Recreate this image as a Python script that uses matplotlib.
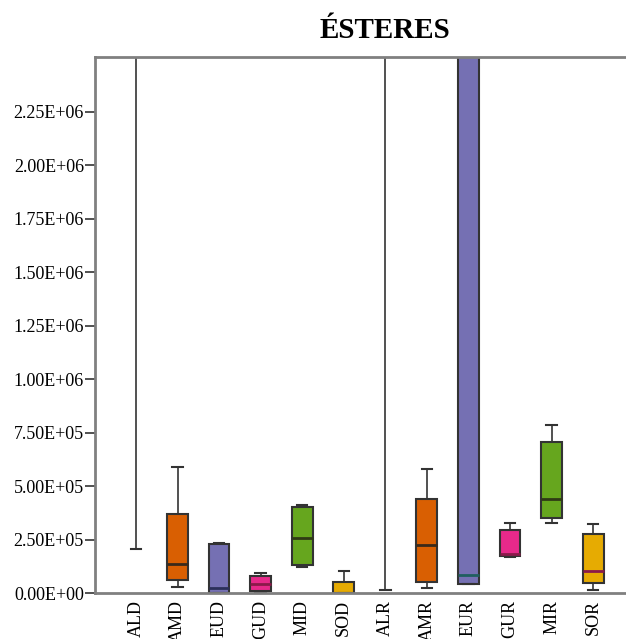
import matplotlib
matplotlib.use("Agg")
import matplotlib.pyplot as plt

# Sample groups and box statistics (whisker low, Q1, median, Q3, whisker high)
groups = ["ALD", "AMD", "EUD", "GUD", "MID", "SOD",
          "ALR", "AMR", "EUR", "GUR", "MIR", "SOR"]
whislo = [2.06e5, 2.9e4, 0.0, 5.0e3, 1.23e5, 0.0,
          1.4e4, 2.5e4, 4.1e4, 1.68e5, 3.26e5, 1.4e4]
q1 = [3.2e6, 5.9e4, 0.0, 9.0e3, 1.30e5, 0.0,
      3.4e6, 5.1e4, 4.1e4, 1.75e5, 3.51e5, 4.7e4]
med = [4.0e6, 1.37e5, 2.5e4, 4.1e4, 2.59e5, 0.0,
       4.3e6, 2.25e5, 8.4e4, 1.84e5, 4.40e5, 1.03e5]
q3 = [5.0e6, 3.70e5, 2.31e5, 8.0e4, 4.04e5, 5.3e4,
      5.5e6, 4.40e5, 3.2e6, 2.93e5, 7.05e5, 2.75e5]
whishi = [6.0e6, 5.91e5, 2.33e5, 9.2e4, 4.12e5, 1.03e5,
          6.5e6, 5.82e5, 4.0e6, 3.29e5, 7.86e5, 3.24e5]

fill_colors = ["#D95F02", "#D95F02", "#7570B3", "#E7298A", "#66A61E", "#E6AB02",
               "#D95F02", "#D95F02", "#7570B3", "#E7298A", "#66A61E", "#E6AB02"]
median_colors = ["#222222", "#3a2a1a", "#2b2f5a", "#8a1a4a", "#2f3a14", "#5a3a00",
                 "#222222", "#3a2a1a", "#1f5f5f", "#8a1a4a", "#2f3a14", "#8a1a4a"]

ytick_vals = [0, 2.5e5, 5.0e5, 7.5e5, 1.0e6, 1.25e6, 1.5e6, 1.75e6, 2.0e6, 2.25e6]

plt.rcParams["font.family"] = ["Liberation Serif", "DejaVu Serif"]

fig = plt.figure(figsize=(6.26, 6.39), dpi=100)
ax = fig.add_axes([95 / 626, 46 / 639, 580 / 626, 536 / 639])

positions = list(range(1, len(groups) + 1))
stats = []
for i, g in enumerate(groups):
    stats.append(dict(label=g, whislo=whislo[i], q1=q1[i], med=med[i],
                      q3=q3[i], whishi=whishi[i], fliers=[]))

bp = ax.bxp(stats, positions=positions, widths=0.5, patch_artist=True,
            showfliers=False, capwidths=0.25,
            boxprops=dict(linewidth=1.5, edgecolor="#333333"),
            whiskerprops=dict(linewidth=1.2, color="#333333"),
            capprops=dict(linewidth=1.5, color="#333333"),
            medianprops=dict(linewidth=2.0))

for patch, fc in zip(bp["boxes"], fill_colors):
    patch.set_facecolor(fc)
for line, mc in zip(bp["medians"], median_colors):
    line.set_color(mc)

ax.set_xlim(0.015, 13.97)
ax.set_ylim(0, 2.507e6)
ax.set_yticks(ytick_vals)
ax.set_yticklabels(["%.2E" % v for v in ytick_vals])
ax.set_xticks(positions)
ax.set_xticklabels(groups, rotation=90)

ax.tick_params(axis="y", direction="out", length=7.5, width=1.2,
               color="#333333", labelsize=13, pad=0.5)
ax.tick_params(axis="x", length=0, labelsize=13, pad=5)

for side in ["left", "top", "bottom"]:
    ax.spines[side].set_color("#808080")
    ax.spines[side].set_linewidth(2)
ax.spines["right"].set_visible(False)

ax.set_title("ÉSTERES", fontsize=21, fontweight="bold", pad=14)

fig.savefig("out.png", dpi=100)
